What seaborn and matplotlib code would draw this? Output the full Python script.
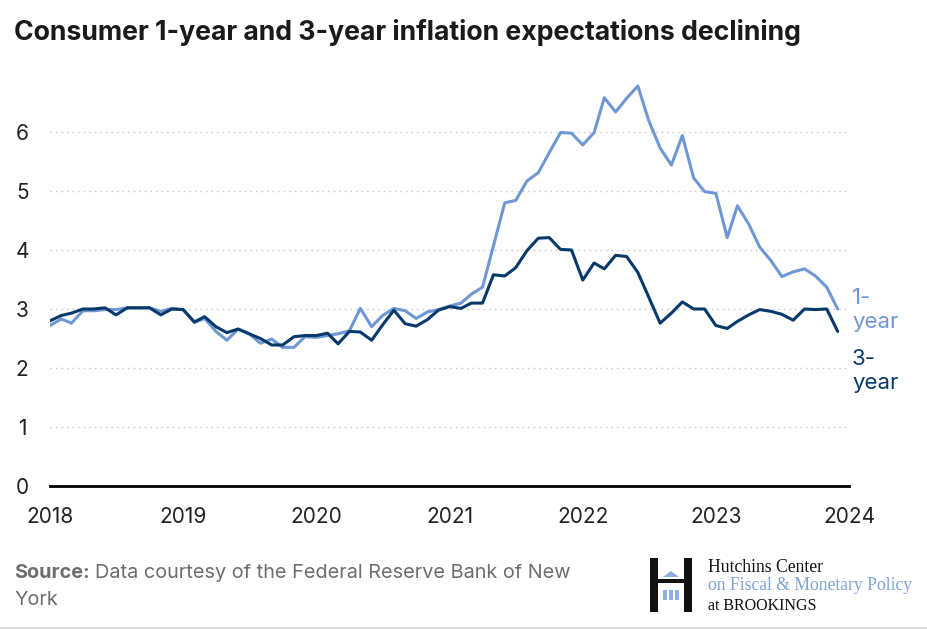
import pandas as pd
import matplotlib
matplotlib.use("Agg")
import matplotlib.pyplot as plt
import matplotlib.dates as mdates
from matplotlib.patches import Rectangle, Polygon
from matplotlib.lines import Line2D
import seaborn as sns

# monthly survey medians, Jan 2018 - Dec 2023
dates = pd.date_range("2018-01-01", periods=72, freq="MS")
one_year = [2.72, 2.83, 2.76, 2.97, 2.97, 2.99, 2.99, 3.02, 3.02, 3.02, 2.96, 3.01,
            2.99, 2.77, 2.84, 2.62, 2.47, 2.66, 2.58, 2.42, 2.49, 2.35, 2.35, 2.53,
            2.52, 2.55, 2.58, 2.63, 3.01, 2.70, 2.89, 3.01, 2.97, 2.84, 2.95, 2.99,
            3.05, 3.10, 3.25, 3.37, 4.07, 4.80, 4.84, 5.17, 5.31, 5.65, 5.99, 5.98,
            5.78, 5.99, 6.58, 6.34, 6.57, 6.78, 6.19, 5.73, 5.44, 5.94, 5.22, 4.99,
            4.96, 4.21, 4.75, 4.44, 4.05, 3.82, 3.55, 3.63, 3.68, 3.56, 3.37, 3.00]
three_year = [2.80, 2.89, 2.93, 3.00, 3.00, 3.02, 2.90, 3.02, 3.02, 3.02, 2.90, 3.00,
              2.99, 2.78, 2.87, 2.70, 2.60, 2.66, 2.58, 2.50, 2.39, 2.39, 2.53, 2.55,
              2.55, 2.59, 2.41, 2.62, 2.61, 2.47, 2.73, 2.98, 2.75, 2.71, 2.82, 2.98,
              3.04, 3.01, 3.10, 3.10, 3.58, 3.56, 3.70, 3.99, 4.20, 4.21, 4.01, 4.00,
              3.49, 3.78, 3.68, 3.91, 3.89, 3.62, 3.20, 2.76, 2.93, 3.12, 3.00, 3.00,
              2.72, 2.67, 2.79, 2.90, 2.99, 2.96, 2.91, 2.81, 3.00, 2.99, 3.00, 2.62]
series_names = ["1-year", "3-year"]
y_ticks = [0, 1, 2, 3, 4, 5, 6]
year_ticks = [2018, 2019, 2020, 2021, 2022, 2023, 2024]

light = "#6f97d4"
dark = "#07396b"
colors = {"1-year": light, "3-year": dark}

df = pd.DataFrame({"date": dates, "1-year": one_year, "3-year": three_year})
long = df.melt(id_vars="date", var_name="series", value_name="value")

sns.set_style("white")
plt.rcParams["font.family"] = ["Inter", "DejaVu Sans"]

W, H = 927, 630
fig = plt.figure(figsize=(W / 100, H / 100), dpi=100)
ax = fig.add_axes([50 / W, 1 - 486 / H, (849 - 50) / W, (486 - 73) / H])

sns.lineplot(data=long, x="date", y="value", hue="series", hue_order=series_names,
             palette=colors, linewidth=2.2, legend=False, ax=ax)

ax.set_xlim(pd.Timestamp("2018-01-01"), pd.Timestamp("2024-01-01"))
ax.set_ylim(0, 7)
ax.set_xticks([pd.Timestamp(f"{y}-01-01") for y in year_ticks])
ax.xaxis.set_major_formatter(mdates.DateFormatter("%Y"))
ax.set_yticks(y_ticks)
ax.set_xlabel("")
ax.set_ylabel("")

for s in ["top", "right", "left"]:
    ax.spines[s].set_visible(False)
ax.spines["bottom"].set_color("black")
ax.spines["bottom"].set_linewidth(2)
ax.tick_params(axis="x", length=5, width=1, color="black", pad=10, labelsize=15, labelcolor="#222222")
ax.tick_params(axis="y", length=0, pad=20, labelsize=15, labelcolor="#222222")
for lab in ax.get_yticklabels():
    lab.set_horizontalalignment("center")

ax.yaxis.grid(True, linestyle=(0, (1, 3)), color="#c4c4c4", linewidth=1)
ax.set_axisbelow(True)
for gl in ax.get_ygridlines()[:1]:
    gl.set_visible(False)

# end labels
fig.text(852 / W, 1 - 310 / H, "1-\nyear", color=light, fontsize=16, va="center",
         ha="left", linespacing=1.3)
fig.text(852 / W, 1 - 371 / H, "3-\nyear", color=dark, fontsize=16, va="center",
         ha="left", linespacing=1.3)

# title
fig.text(14 / W, 1 - 32 / H, "Consumer 1-year and 3-year inflation expectations declining",
         fontsize=19.2, fontweight="bold", color="#1a1a1a", va="center", ha="left")

# source
src = fig.text(14 / W, 1 - 573 / H, "Source:", fontsize=14.3, fontweight="bold",
               color="#6d6d6d", va="center", ha="left")
r = fig.canvas.get_renderer()
bb = src.get_window_extent(renderer=r)
fig.text((bb.x1 + 5) / W, 1 - 573 / H, "Data courtesy of the Federal Reserve Bank of New",
         fontsize=14.3, color="#6d6d6d", va="center", ha="left")
fig.text(14 / W, 1 - 600 / H, "York", fontsize=14.3, color="#6d6d6d", va="center", ha="left")

# logo
def box(x0, y0, x1, y1, c):
    fig.patches.append(Rectangle((x0 / W, 1 - y1 / H), (x1 - x0) / W, (y1 - y0) / H,
                                 transform=fig.transFigure, color=c, lw=0))

box(650, 558, 658, 612, "#111111")
box(684, 558, 692, 612, "#111111")
box(658, 579, 684, 583, "#111111")
fig.patches.append(Polygon([(663 / W, 1 - 577 / H), (679 / W, 1 - 577 / H), (671 / W, 1 - 571 / H)],
                           transform=fig.transFigure, color="#8fb0dc", lw=0))
for cx in [663, 669, 675]:
    box(cx, 590, cx + 4, 600, "#8fb0dc")

fig.text(708 / W, 1 - 567 / H, "Hutchins Center", family="Liberation Serif", fontsize=12.7,
         color="#111111", va="center", ha="left")
fig.text(708 / W, 1 - 586 / H, "on Fiscal & Monetary Policy", family="Liberation Serif",
         fontsize=12.7, color="#7fa3d6", va="center", ha="left")
fig.text(708 / W, 1 - 606 / H, "at BROOKINGS", family="Liberation Serif", fontsize=11.5,
         color="#111111", va="center", ha="left")

fig.lines.append(Line2D([0, 1], [1 - 628 / H] * 2, transform=fig.transFigure,
                        color="#dddddd", lw=1.5))

fig.savefig("out.png", dpi=100)
